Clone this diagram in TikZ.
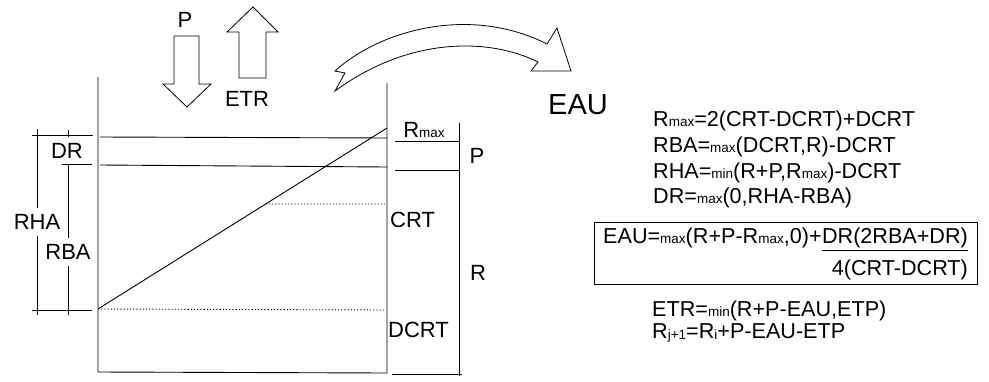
\documentclass[tikz,border=0pt]{standalone}
\usepackage{fontspec}
\setmainfont{Liberation Sans}
\usetikzlibrary{calc,fit}

\newcommand{\sm}[1]{{\fontsize{13.5}{13.5}\selectfont #1}}
\newcommand{\lowsm}[1]{\raisebox{-1.5pt}{\fontsize{13.5}{13.5}\selectfont #1}}

\tikzset{
  wall/.style={line width=0.9pt},
  dim/.style={line width=0.7pt},
  dots/.style={line width=0.9pt, dash pattern=on 1.2pt off 2pt},
  lbl/.style={font=\fontsize{22}{22}\selectfont, inner sep=0pt},
  dimlbl/.style={font=\fontsize{22}{22}\selectfont, inner sep=6pt},
  frm/.style={font=\fontsize{21.6}{26}\selectfont, inner sep=0pt, anchor=base west},
  blockarrow/.style={line width=0.8pt, line join=miter},
}

\begin{document}
\begin{tikzpicture}[x=1pt,y=-1pt]
  \useasboundingbox (0,0) rectangle (989,381);

  %--- Reservoir ---
  \coordinate (tl) at (98,77);
  \coordinate (bl) at (98,372);
  \coordinate (br) at (387,373);
  \coordinate (tr) at (387,83);
  \draw[wall] (tl) -- (bl) -- (br) -- (tr);

  % levels
  \draw[wall] (100,137) -- (387,138);
  \draw[wall] (100,165) -- (387,167);

  % storage line
  \coordinate (lo) at (98,309);
  \coordinate (hi) at (387,128);
  \draw[wall] (lo) -- (hi);
  \draw[dots] ($(lo)!0.58!(hi)$) -- (387,204);
  \draw[dots] (lo) -- (386,310);

  %--- Left dimensions ---
  \node[dimlbl] (rha) at (37,222) {RHA};
  \node[dimlbl] (rba) at (68,252) {RBA};
  \node[lbl] (dr) at (67,151) {DR};
  \draw[dim] (32,135) -- (93,135);
  \draw[dim] (68,130) -- (68,137);
  \draw[dim] (37,129) -- (rha.north);
  \draw[dim] (rha.south) -- (37,315);
  \draw[dim] (62,164) -- (92,164);
  \draw[dim] (68,164) -- (rba.north);
  \draw[dim] (rba.south) -- (68,315);
  \draw[dim] (32,310) -- (92,310);

  %--- Right dimensions ---
  \node[lbl] (rmax) at (424,130) {R\sm{max}};
  \draw[dim] (395,141) -- (460,141);
  \draw[dim] (395,170) -- (460,170);
  \draw[dim] (459,123) -- (459,376);
  \draw[dim] (392,374) -- (462,374);
  \node[lbl] (pr) at (477,156) {P};
  \node[lbl] (rr) at (478,273) {R};
  \node[lbl, anchor=west] (crt) at (390,220) {CRT};
  \node[lbl, anchor=west] (dcrt) at (388,330) {DCRT};

  %--- Fluxes ---
  \draw[blockarrow] (174,36) -- (174,84) -- (163,84) -- (187,107) -- (211,84) -- (199,84) -- (199,36) -- cycle;
  \node[lbl] (pin) at (185,20) {P};
  \draw[blockarrow] (239,78) -- (239,32) -- (227,32) -- (253,7) -- (278,32) -- (266,32) -- (266,78) -- cycle;
  \node[lbl] (etr) at (247,99) {ETR};

  % curved arrow
  \draw[blockarrow] (335,71) .. controls (380,30) and (470,5) .. (547,44) -- (557,28) -- (571,71) -- (531,71) -- (538,62)
    .. controls (490,38) and (410,36) .. (335,91) -- (345,73) -- cycle;

  %--- Equations ---
  \node[font=\fontsize{29}{29}\selectfont, inner sep=0pt] (eau) at (578,105) {EAU};
  \node[frm] (f1) at (653,126) {R\sm{max}=2(CRT-DCRT)+DCRT};
  \node[frm] (f2) at (653,152) {RBA=\sm{max}(DCRT,R)-DCRT};
  \node[frm] (f3) at (653,178) {RHA=\sm{min}(R+P,R\sm{max})-DCRT};
  \node[frm] (f4) at (653,203) {DR=\sm{max}(0,RHA-RBA)};

  % boxed
  \node[frm] (f5) at (603,243) {EAU=\sm{max}(R+P-R\sm{max},0)+};
  \node[frm] (num) at (f5.base east) {DR(2RBA+DR)};
  \draw[dim] ($(num.base west)+(0,7)$) -- ($(num.base east)+(0,7)$);
  \node[frm, anchor=base east] (den) at ($(num.base east)+(0,32)$) {4(CRT-DCRT)};
  \node[draw, dim, fit=(f5)(num)(den), inner xsep=9pt, inner ysep=5pt] (box) {};

  \node[frm] (f6) at (652,316) {ETR=\sm{min}(R+P-EAU,ETP)};
  \node[frm] (f7) at (652,338) {R\lowsm{j+1}=R\lowsm{i}+P-EAU-ETP};
\end{tikzpicture}
\end{document}
